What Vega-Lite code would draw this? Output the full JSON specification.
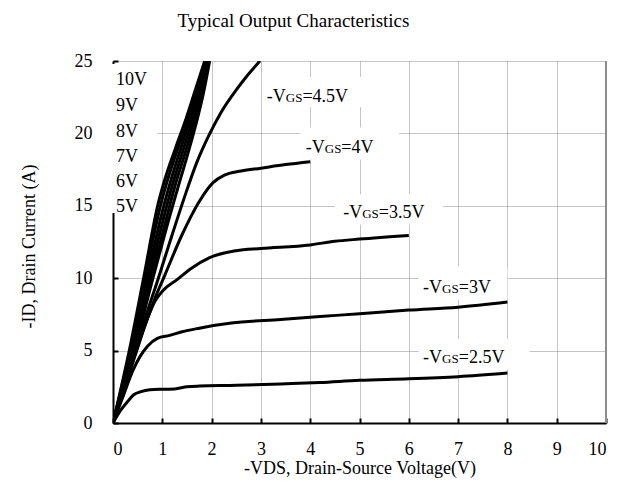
{
  "$schema": "https://vega.github.io/schema/vega-lite/v6.json",
  "autosize": {"type": "none"},
  "width": 493,
  "height": 362,
  "padding": {"left": 113, "top": 61, "right": 12, "bottom": 66},
  "config": {
    "font": "Liberation Serif",
    "view": {"stroke": null},
    "axis": {
      "labelFont": "Liberation Serif",
      "titleFont": "Liberation Serif",
      "labelFontSize": 18,
      "titleFontSize": 18,
      "titleFontWeight": "normal",
      "labelColor": "#000",
      "titleColor": "#000",
      "domainColor": "#000",
      "domainWidth": 2,
      "tickColor": "#000",
      "tickWidth": 2,
      "tickSize": -5,
      "gridColor": "#8a8a8a",
      "gridDash": [1, 1],
      "gridWidth": 1,
      "gridOpacity": 1
    }
  },
  "title": {
    "text": "Typical Output Characteristics",
    "font": "Liberation Serif",
    "fontSize": 19,
    "fontWeight": "normal",
    "color": "#000",
    "frame": "group",
    "anchor": "middle",
    "baseline": "alphabetic",
    "offset": 6,
    "dx": -66
  },
  "datasets": {
    "curves": [
      {"vgs": "2.5V", "v": 0, "i": 0}, {"vgs": "2.5V", "v": 0.15, "i": 0.85}, {"vgs": "2.5V", "v": 0.3, "i": 1.5},
      {"vgs": "2.5V", "v": 0.42, "i": 1.95}, {"vgs": "2.5V", "v": 0.55, "i": 2.15}, {"vgs": "2.5V", "v": 0.75, "i": 2.3},
      {"vgs": "2.5V", "v": 1.05, "i": 2.33}, {"vgs": "2.5V", "v": 1.25, "i": 2.35}, {"vgs": "2.5V", "v": 1.5, "i": 2.5},
      {"vgs": "2.5V", "v": 1.75, "i": 2.55}, {"vgs": "2.5V", "v": 2.5, "i": 2.6}, {"vgs": "2.5V", "v": 3.4, "i": 2.7},
      {"vgs": "2.5V", "v": 4.2, "i": 2.8}, {"vgs": "2.5V", "v": 5, "i": 2.95}, {"vgs": "2.5V", "v": 6, "i": 3.05},
      {"vgs": "2.5V", "v": 7, "i": 3.2}, {"vgs": "2.5V", "v": 8, "i": 3.45},

      {"vgs": "3V", "v": 0, "i": 0}, {"vgs": "3V", "v": 0.2, "i": 1.8}, {"vgs": "3V", "v": 0.4, "i": 3.6},
      {"vgs": "3V", "v": 0.55, "i": 4.6}, {"vgs": "3V", "v": 0.7, "i": 5.3}, {"vgs": "3V", "v": 0.9, "i": 5.85},
      {"vgs": "3V", "v": 1.15, "i": 6.05}, {"vgs": "3V", "v": 1.4, "i": 6.3}, {"vgs": "3V", "v": 1.75, "i": 6.55},
      {"vgs": "3V", "v": 2.4, "i": 6.9}, {"vgs": "3V", "v": 3.4, "i": 7.15}, {"vgs": "3V", "v": 4.2, "i": 7.35},
      {"vgs": "3V", "v": 5, "i": 7.55}, {"vgs": "3V", "v": 6, "i": 7.8}, {"vgs": "3V", "v": 7, "i": 8.0},
      {"vgs": "3V", "v": 8, "i": 8.35},

      {"vgs": "3.5V", "v": 0, "i": 0}, {"vgs": "3.5V", "v": 0.25, "i": 2.6}, {"vgs": "3.5V", "v": 0.5, "i": 5.2},
      {"vgs": "3.5V", "v": 0.7, "i": 7.2}, {"vgs": "3.5V", "v": 0.85, "i": 8.4}, {"vgs": "3.5V", "v": 1.0, "i": 9.1},
      {"vgs": "3.5V", "v": 1.3, "i": 9.9}, {"vgs": "3.5V", "v": 1.6, "i": 10.7}, {"vgs": "3.5V", "v": 1.95, "i": 11.4},
      {"vgs": "3.5V", "v": 2.5, "i": 11.9}, {"vgs": "3.5V", "v": 3, "i": 12.05}, {"vgs": "3.5V", "v": 4, "i": 12.3},
      {"vgs": "3.5V", "v": 4.5, "i": 12.55}, {"vgs": "3.5V", "v": 5, "i": 12.7}, {"vgs": "3.5V", "v": 6, "i": 12.95},

      {"vgs": "4V", "v": 0, "i": 0}, {"vgs": "4V", "v": 0.3, "i": 3.2}, {"vgs": "4V", "v": 0.6, "i": 6.3},
      {"vgs": "4V", "v": 0.85, "i": 8.6}, {"vgs": "4V", "v": 1.05, "i": 10.2}, {"vgs": "4V", "v": 1.4, "i": 13.0},
      {"vgs": "4V", "v": 1.75, "i": 15.3}, {"vgs": "4V", "v": 2.03, "i": 16.6}, {"vgs": "4V", "v": 2.25, "i": 17.1},
      {"vgs": "4V", "v": 2.6, "i": 17.4}, {"vgs": "4V", "v": 3, "i": 17.6}, {"vgs": "4V", "v": 3.5, "i": 17.85},
      {"vgs": "4V", "v": 4, "i": 18.05},

      {"vgs": "4.5V", "v": 0, "i": 0}, {"vgs": "4.5V", "v": 0.3, "i": 3.4}, {"vgs": "4.5V", "v": 0.6, "i": 6.7},
      {"vgs": "4.5V", "v": 0.92, "i": 10.0}, {"vgs": "4.5V", "v": 1.2, "i": 13.0}, {"vgs": "4.5V", "v": 1.45, "i": 15.6},
      {"vgs": "4.5V", "v": 1.7, "i": 18.0}, {"vgs": "4.5V", "v": 1.95, "i": 19.9}, {"vgs": "4.5V", "v": 2.2, "i": 21.5},
      {"vgs": "4.5V", "v": 2.5, "i": 23.0}, {"vgs": "4.5V", "v": 2.75, "i": 24.1}, {"vgs": "4.5V", "v": 2.98, "i": 25},

      {"vgs": "5V", "v": 0, "i": 0}, {"vgs": "5V", "v": 0.43, "i": 5}, {"vgs": "5V", "v": 0.81, "i": 10},
      {"vgs": "5V", "v": 1.21, "i": 15}, {"vgs": "5V", "v": 1.32, "i": 16.3}, {"vgs": "5V", "v": 1.51, "i": 18.5},
      {"vgs": "5V", "v": 1.68, "i": 20.6}, {"vgs": "5V", "v": 1.83, "i": 22.7}, {"vgs": "5V", "v": 1.96, "i": 25},

      {"vgs": "6V", "v": 0, "i": 0}, {"vgs": "6V", "v": 0.41, "i": 5}, {"vgs": "6V", "v": 0.77, "i": 10},
      {"vgs": "6V", "v": 1.15, "i": 15}, {"vgs": "6V", "v": 1.26, "i": 16.4}, {"vgs": "6V", "v": 1.46, "i": 18.6},
      {"vgs": "6V", "v": 1.64, "i": 20.7}, {"vgs": "6V", "v": 1.8, "i": 22.8}, {"vgs": "6V", "v": 1.94, "i": 25},

      {"vgs": "7V", "v": 0, "i": 0}, {"vgs": "7V", "v": 0.39, "i": 5}, {"vgs": "7V", "v": 0.73, "i": 10},
      {"vgs": "7V", "v": 1.09, "i": 15}, {"vgs": "7V", "v": 1.21, "i": 16.5}, {"vgs": "7V", "v": 1.41, "i": 18.7},
      {"vgs": "7V", "v": 1.6, "i": 20.8}, {"vgs": "7V", "v": 1.77, "i": 22.8}, {"vgs": "7V", "v": 1.92, "i": 25},

      {"vgs": "8V", "v": 0, "i": 0}, {"vgs": "8V", "v": 0.37, "i": 5}, {"vgs": "8V", "v": 0.69, "i": 10},
      {"vgs": "8V", "v": 1.03, "i": 15}, {"vgs": "8V", "v": 1.16, "i": 16.6}, {"vgs": "8V", "v": 1.36, "i": 18.8},
      {"vgs": "8V", "v": 1.56, "i": 20.9}, {"vgs": "8V", "v": 1.74, "i": 22.9}, {"vgs": "8V", "v": 1.9, "i": 25},

      {"vgs": "9V", "v": 0, "i": 0}, {"vgs": "9V", "v": 0.35, "i": 5}, {"vgs": "9V", "v": 0.65, "i": 10},
      {"vgs": "9V", "v": 0.97, "i": 15.1}, {"vgs": "9V", "v": 1.1, "i": 16.7}, {"vgs": "9V", "v": 1.31, "i": 18.9},
      {"vgs": "9V", "v": 1.52, "i": 20.9}, {"vgs": "9V", "v": 1.7, "i": 22.9}, {"vgs": "9V", "v": 1.88, "i": 25},

      {"vgs": "10V", "v": 0, "i": 0}, {"vgs": "10V", "v": 0.33, "i": 5}, {"vgs": "10V", "v": 0.62, "i": 10},
      {"vgs": "10V", "v": 0.92, "i": 15.2}, {"vgs": "10V", "v": 1.05, "i": 16.8}, {"vgs": "10V", "v": 1.27, "i": 19},
      {"vgs": "10V", "v": 1.48, "i": 21}, {"vgs": "10V", "v": 1.67, "i": 23}, {"vgs": "10V", "v": 1.86, "i": 25}
    ],
    "labelBoxes": [
      {"v": -0.05, "v2": 0.9, "i": 14.5, "i2": 24.8},
      {"v": 3.02, "v2": 5.1, "i": 21.8, "i2": 23.9},
      {"v": 3.8, "v2": 5.8, "i": 18.2, "i2": 20.4},
      {"v": 4.5, "v2": 6.7, "i": 13.7, "i2": 15.8},
      {"v": 6.2, "v2": 8.0, "i": 8.5, "i2": 10.8},
      {"v": 6.2, "v2": 8.45, "i": 3.7, "i2": 5.8}
    ],
    "frameEdge": [
      {"v": 10, "i": 0, "i2": 25}
    ],
    "gateList": [
      {"v": 0.06, "i": 23.34, "gate": "10V"},
      {"v": 0.06, "i": 21.55, "gate": "9V"},
      {"v": 0.06, "i": 19.75, "gate": "8V"},
      {"v": 0.06, "i": 18.03, "gate": "7V"},
      {"v": 0.06, "i": 16.3, "gate": "6V"},
      {"v": 0.06, "i": 14.57, "gate": "5V"}
    ],
    "gateLabels": [
      {"v": 3.12, "i": 22.2, "gate": "4.5V"},
      {"v": 3.91, "i": 18.68, "gate": "4V"},
      {"v": 4.67, "i": 14.16, "gate": "3.5V"},
      {"v": 6.29, "i": 8.98, "gate": "3V"},
      {"v": 6.29, "i": 4.14, "gate": "2.5V"}
    ]
  },
  "encoding": {
    "x": {
      "field": "v",
      "type": "quantitative",
      "scale": {"domain": [0, 10], "nice": false, "zero": false},
      "axis": {
        "values": [0, 1, 2, 3, 4, 5, 6, 7, 8, 9, 10],
        "labelPadding": 22,
        "title": "-VDS, Drain-Source Voltage(V)",
        "titleBaseline": "alphabetic",
        "titleY": 50,
        "titleX": 246.5,
        "titleAlign": "center"
      }
    },
    "y": {
      "field": "i",
      "type": "quantitative",
      "scale": {"domain": [0, 25], "nice": false, "zero": false},
      "axis": {
        "values": [0, 5, 10, 15, 20, 25],
        "labelPadding": 26,
        "title": "-ID, Drain Current (A)",
        "titleAngle": -90,
        "titleBaseline": "middle",
        "titleAlign": "center",
        "titleX": -84,
        "titleY": 185
      }
    }
  },
  "layer": [
    {
      "data": {"name": "labelBoxes"},
      "mark": {"type": "rect", "fill": "#ffffff", "stroke": null},
      "encoding": {
        "x2": {"field": "v2"},
        "y2": {"field": "i2"}
      }
    },
    {
      "data": {"name": "frameEdge"},
      "mark": {"type": "rule", "color": "#8c8c8c", "strokeWidth": 2},
      "encoding": {
        "y2": {"field": "i2"}
      }
    },
    {
      "data": {"name": "curves"},
      "mark": {"type": "line", "color": "#000000", "strokeWidth": 3, "interpolate": "monotone", "clip": true},
      "encoding": {
        "detail": {"field": "vgs"}
      }
    },
    {
      "data": {"name": "gateList"},
      "mark": {"type": "text", "align": "left", "baseline": "alphabetic", "fontSize": 18, "color": "#000"},
      "encoding": {"text": {"field": "gate"}}
    },
    {
      "data": {"name": "gateLabels"},
      "mark": {"type": "text", "align": "left", "baseline": "alphabetic", "fontSize": 18, "color": "#000"},
      "encoding": {"text": {"value": "-V"}}
    },
    {
      "data": {"name": "gateLabels"},
      "mark": {"type": "text", "align": "left", "baseline": "alphabetic", "fontSize": 13, "dx": 19, "color": "#000"},
      "encoding": {"text": {"value": "GS"}}
    },
    {
      "data": {"name": "gateLabels"},
      "mark": {"type": "text", "align": "left", "baseline": "alphabetic", "fontSize": 18, "dx": 35.6, "color": "#000"},
      "encoding": {"text": {"value": "="}}
    },
    {
      "data": {"name": "gateLabels"},
      "mark": {"type": "text", "align": "left", "baseline": "alphabetic", "fontSize": 18, "dx": 45.8, "color": "#000"},
      "encoding": {"text": {"field": "gate"}}
    }
  ]
}
